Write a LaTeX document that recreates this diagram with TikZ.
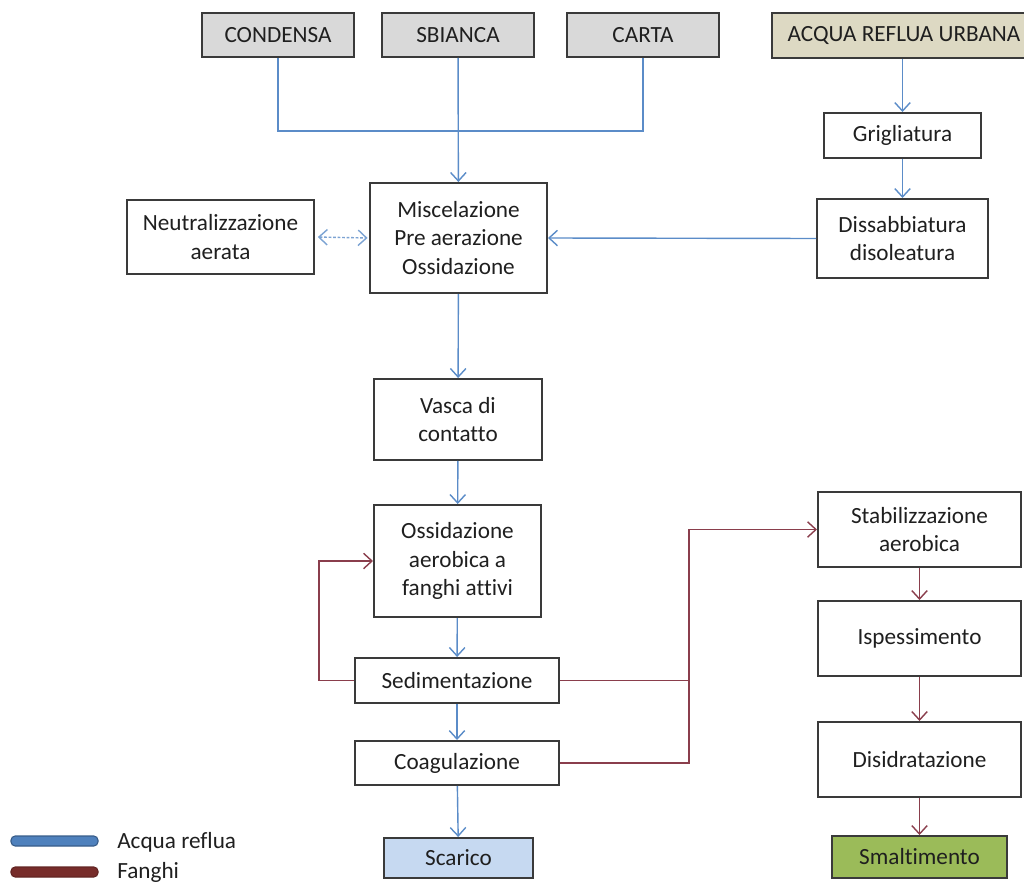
\documentclass[tikz,border=0pt]{standalone}
\usepackage{fontspec}
\setmainfont{Carlito}[Ligatures=NoCommon]
\usetikzlibrary{arrows.meta}

\definecolor{boxline}{HTML}{3A3A3A}
\definecolor{srcgray}{HTML}{D9D9D9}
\definecolor{srcolive}{HTML}{DDD9C3}
\definecolor{outblue}{HTML}{C6D9F1}
\definecolor{outgreen}{HTML}{9BBB59}
\definecolor{water}{HTML}{5B8CC8}
\definecolor{sludge}{HTML}{8A3E4C}
\definecolor{keyblue}{HTML}{4F81BD}
\definecolor{keyblueline}{HTML}{385D8A}
\definecolor{keyred}{HTML}{772C2A}
\definecolor{keyredline}{HTML}{632523}

\tikzset{
  box/.style={draw=boxline, line width=1.4pt, inner sep=0pt, align=center,
    text=black!88, font=\fontsize{16.5}{20}\selectfont},
  wline/.style={draw=water, line width=1pt},
  sline/.style={draw=sludge, line width=1pt},
  >={Straight Barb[length=6pt,width=11pt]}
}

\begin{document}
\begin{tikzpicture}[x=0.025cm, y=-0.025cm]
\useasboundingbox (0,0) rectangle (1024,886);

% sources
\node [box, fill=srcgray, minimum width=3.8cm, minimum height=1.1cm] (cond) at (278,35) {CONDENSA};
\node [box, fill=srcgray, minimum width=3.8cm, minimum height=1.1cm] (sbianca) at (458,35) {SBIANCA};
\node [box, fill=srcgray, minimum width=3.8cm, minimum height=1.1cm] (carta) at (643,35) {CARTA};
\node [box, fill=srcolive, minimum width=6.6cm, minimum height=1.125cm] (acqua) at (904,35.5) {ACQUA REFLUA URBANA};

% water line
\node [box, minimum width=3.925cm, minimum height=1.125cm] (grig) at (902.5,135.5) {Grigliatura};
\node [box, minimum width=4.275cm, minimum height=1.975cm] (diss) at (902.5,238.5) {Dissabbiatura\\disoleatura};
\node [box, minimum width=4.425cm, minimum height=2.75cm] (misc) at (458.5,238) {Miscelazione\\Pre aerazione\\Ossidazione};
\node [box, minimum width=4.675cm, minimum height=1.85cm] (neutr) at (220.5,237) {Neutralizzazione\\aerata};
\node [box, minimum width=4.2cm, minimum height=2.025cm] (vasca) at (458,419.5) {Vasca di\\contatto};
\node [box, minimum width=4.175cm, minimum height=2.8cm] (ossid) at (457.5,561) {Ossidazione\\aerobica a\\fanghi attivi};
\node [box, minimum width=5.1cm, minimum height=1.125cm] (sedim) at (457,680.5) {Sedimentazione};
\node [box, minimum width=5.1cm, minimum height=1.1cm] (coag) at (457,763) {Coagulazione};
\node [box, fill=outblue, minimum width=3.725cm, minimum height=1cm] (scarico) at (458.5,858) {Scarico};

% sludge line
\node [box, minimum width=5.075cm, minimum height=1.875cm] (stab) at (919.5,529.5) {Stabilizzazione\\aerobica};
\node [box, minimum width=5.075cm, minimum height=1.875cm] (isp) at (919.5,638.5) {Ispessimento};
\node [box, minimum width=5.075cm, minimum height=1.875cm] (disid) at (919.5,759.5) {Disidratazione};
\node [box, fill=outgreen, minimum width=4.375cm, minimum height=1.05cm] (smalt) at (919.5,857) {Smaltimento};

\coordinate (jct) at (458,131);
\coordinate (ret) at (319,680.5);
\coordinate (bus) at (689,763);

\draw [wline] (cond.south) |- (jct) -| (carta.south);
\draw [wline, ->] (sbianca) -- (misc);
\draw [wline, ->] (grig.north |- acqua.south) -- (grig.north);
\draw [wline, ->] (grig) -- (diss);
\draw [wline, ->] (diss.west) -- (misc.east);
\draw [wline, <->, dashed, dash pattern=on 2pt off 1.2pt, draw=water!80, shorten <=2pt, shorten >=1pt] (neutr.east) -- (misc.west);
\draw [wline, ->] (misc) -- (vasca);
\draw [wline, ->] (vasca) -- (ossid);
\draw [wline, ->] (ossid) -- (sedim);
\draw [wline, ->] (sedim) -- (coag);
\draw [wline, ->] (coag) -- (scarico);

\draw [sline, ->] (sedim.west) -- (ret) |- (ossid.west);
\draw [sline] (sedim.east) -- (sedim.east -| bus);
\draw [sline, ->] (coag.east) -- (bus) |- (stab.west);
\draw [sline, ->] (stab) -- (isp);
\draw [sline, ->] (isp) -- (disid);
\draw [sline, ->] (disid) -- (smalt);

% legend
\draw [fill=keyblue, draw=keyblueline, line width=0.8pt, rounded corners=3pt] (11,836) rectangle (98,846);
\draw [fill=keyred, draw=keyredline, line width=0.8pt, rounded corners=3pt] (11,867) rectangle (98,877);
\node [anchor=west, inner sep=0pt, text=black!88, font=\fontsize{16.5}{20}\selectfont] (kwater) at (117,842) {Acqua reflua};
\node [anchor=west, inner sep=0pt, text=black!88, font=\fontsize{16.5}{20}\selectfont] (ksludge) at (117,872) {Fanghi};

\end{tikzpicture}
\end{document}
